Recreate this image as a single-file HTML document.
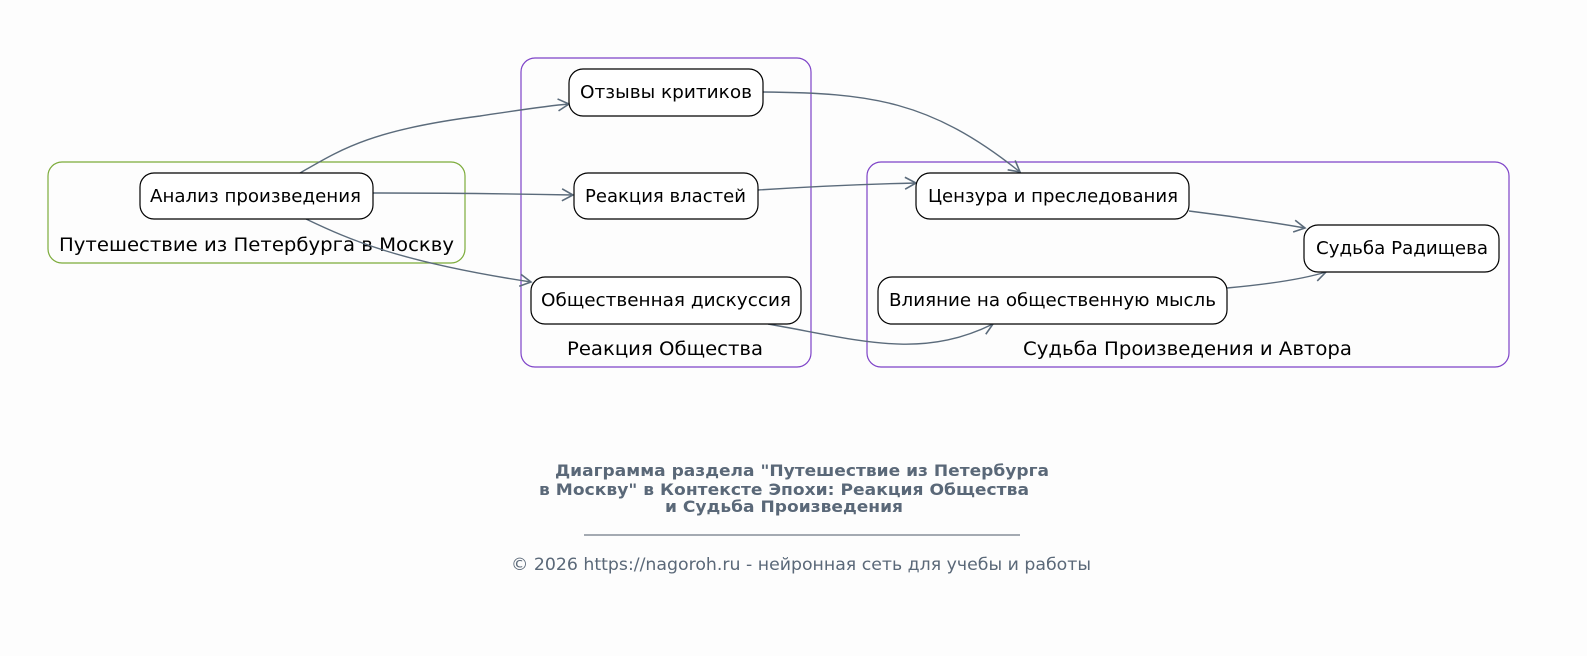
<!DOCTYPE html>
<html><head><meta charset="utf-8"><style>
html,body{margin:0;padding:0;background:#fdfdfd;}
svg{display:block;font-family:"DejaVu Sans","Liberation Sans","Noto Sans CJK SC",sans-serif;}
</style></head><body>
<svg width="1587" height="656" viewBox="0 0 1587 656" xmlns="http://www.w3.org/2000/svg">
<defs><marker id="a" markerWidth="14" markerHeight="14" refX="12" refY="7" orient="auto" markerUnits="userSpaceOnUse"><path d="M1,1 L12,7 L1,13" fill="none" stroke="#5b6b7b" stroke-width="1.6"/></marker></defs>
<rect x="48" y="162" width="417" height="101" rx="14" fill="none" stroke="#7cab3a" stroke-width="1.2"/>
<rect x="521" y="58" width="290" height="309" rx="14" fill="none" stroke="#7e43c8" stroke-width="1.2"/>
<rect x="867" y="162" width="642" height="205" rx="14" fill="none" stroke="#7e43c8" stroke-width="1.2"/>
<g font-size="19" fill="#000">
<text x="59" y="251" textLength="395" lengthAdjust="spacingAndGlyphs">Путешествие из Петербурга в Москву</text>
<text x="567" y="355" textLength="196" lengthAdjust="spacingAndGlyphs">Реакция Общества</text>
<text x="1023" y="355" textLength="329" lengthAdjust="spacingAndGlyphs">Судьба Произведения и Автора</text>
</g>
<g fill="none" stroke="#5b6b7b" stroke-width="1.4" marker-end="url(#a)">
<path d="M300,173 C340,150 370,130 480,116 C520,110 545,106 569,104"/>
<path d="M373,193 C450,193 520,194 573,195"/>
<path d="M306,219 C350,240 400,262 531,282"/>
<path d="M763,92 C870,93 930,100 1020,172"/>
<path d="M758,190 C820,186 870,184 916,183"/>
<path d="M768,324 C860,340 920,360 993,324"/>
<path d="M1189,211 C1230,216 1270,222 1305,228"/>
<path d="M1227,288 C1260,285 1300,280 1326,272"/>
</g>
<g fill="#fff" stroke="#000" stroke-width="1.2">
<rect x="140" y="173" width="233" height="46" rx="14"/>
<rect x="569" y="69" width="194" height="47" rx="14"/>
<rect x="574" y="173" width="184" height="46" rx="14"/>
<rect x="531" y="277" width="270" height="47" rx="14"/>
<rect x="916" y="173" width="273" height="46" rx="14"/>
<rect x="1304" y="225" width="195" height="47" rx="14"/>
<rect x="878" y="277" width="349" height="47" rx="14"/>
</g>
<g font-size="18" fill="#000">
<text x="150" y="202" textLength="211" lengthAdjust="spacingAndGlyphs">Анализ произведения</text>
<text x="580" y="98" textLength="172" lengthAdjust="spacingAndGlyphs">Отзывы критиков</text>
<text x="585" y="202" textLength="161" lengthAdjust="spacingAndGlyphs">Реакция властей</text>
<text x="541" y="306" textLength="250" lengthAdjust="spacingAndGlyphs">Общественная дискуссия</text>
<text x="928" y="202" textLength="250" lengthAdjust="spacingAndGlyphs">Цензура и преследования</text>
<text x="1316" y="254" textLength="172" lengthAdjust="spacingAndGlyphs">Судьба Радищева</text>
<text x="889" y="306" textLength="327" lengthAdjust="spacingAndGlyphs">Влияние на общественную мысль</text>
</g>
<g fill="#5a6878">
<text font-size="16" font-weight="bold" x="555" y="476" textLength="494" lengthAdjust="spacingAndGlyphs">Диаграмма раздела "Путешествие из Петербурга</text>
<text font-size="16" font-weight="bold" x="539" y="495" textLength="490" lengthAdjust="spacingAndGlyphs">в Москву" в Контексте Эпохи: Реакция Общества</text>
<text font-size="16" font-weight="bold" x="665" y="512" textLength="238" lengthAdjust="spacingAndGlyphs">и Судьба Произведения</text>
<line x1="584" y1="535" x2="1020" y2="535" stroke="#4a5868" stroke-width="1"/>
<text font-size="17" x="511" y="570" textLength="580" lengthAdjust="spacingAndGlyphs">© 2026 https://nagoroh.ru - нейронная сеть для учебы и работы</text>
</g>
</svg>
</body></html>
